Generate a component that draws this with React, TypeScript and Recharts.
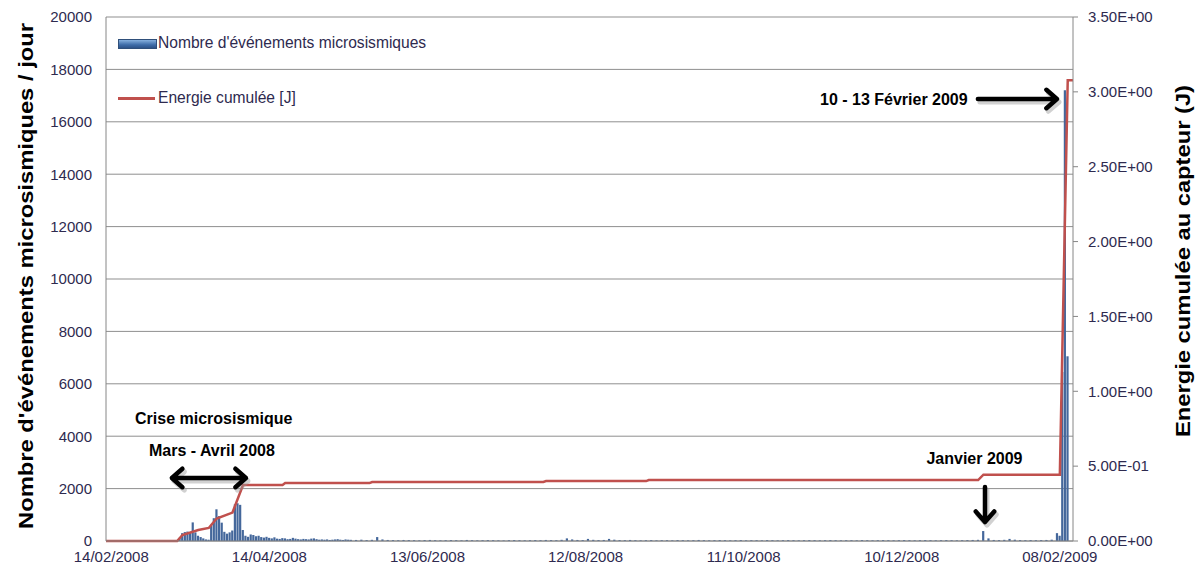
import {
  Bar,
  ComposedChart,
  CartesianGrid,
  Legend,
  Line,
  ReferenceDot,
  ReferenceLine,
  XAxis,
  YAxis,
} from "recharts";

// day index 0 = 14/02/2008
const X_TICKS = [0, 60, 120, 180, 240, 300, 360];
const X_TICK_LABELS = [
  "14/02/2008",
  "14/04/2008",
  "13/06/2008",
  "12/08/2008",
  "11/10/2008",
  "10/12/2008",
  "08/02/2009",
];
const LEFT_TICKS = [0, 2000, 4000, 6000, 8000, 10000, 12000, 14000, 16000, 18000, 20000];
const RIGHT_TICKS = [0, 0.5, 1, 1.5, 2, 2.5, 3, 3.5];

// daily counts, one per day from day 26 (crise mars - avril)
const CRISIS_START = 26;
const CRISIS_COUNTS = [
  120, 300, 340, 360, 340, 710, 330, 200, 150, 100,
  60, 50, 600, 870, 1210, 950, 700, 350, 280, 330,
  400, 1400, 1440, 1380, 420, 200, 160, 250, 230, 180,
  200, 150, 130, 160, 120, 100, 140, 90, 80, 110,
  100, 70, 80, 120, 90, 70, 60, 80, 70, 60,
  90, 100, 70, 50, 60, 50, 60, 40, 50, 60,
  70, 50, 40, 60, 50,
];

// quiet period, every other day from day 91
const QUIET_START = 91;
const QUIET_STEP = 2;
const QUIET_COUNTS = [
  45, 40, 50, 35, 45, 150, 60, 40, 35, 30,
  40, 35, 30, 25, 35, 40, 30, 25, 30, 35,
  30, 25, 40, 30, 25, 30, 35, 30, 25, 20,
  30, 35, 30, 25, 30, 35, 30, 40, 35, 30,
  45, 100, 60, 40, 35, 80, 45, 35, 40, 80,
  50, 35, 30, 40, 30, 25, 30, 35, 25, 30,
  30, 25, 35, 30, 25, 30, 40, 30, 25, 30,
  35, 30, 25, 30, 35, 25, 30, 30, 25, 35,
  30, 25, 30, 35, 30, 25, 30, 35, 30, 25,
  30, 35, 30, 25, 30, 30, 25, 35, 30, 25,
  30, 35, 30, 25, 30, 35, 30, 25, 30, 35,
  30, 25, 30, 35, 30, 25, 30, 35, 40, 45,
  380, 100, 40, 35, 45, 80, 50, 35, 30, 35,
  30, 35, 40, 50, 300,
];

// 10 - 13 février 2009
const PEAK_DAYS = [360, 361, 362, 363];
const PEAK_COUNTS = [200, 6450, 17200, 7050];

// cumulated energy [J], breakpoints
const ENERGY_DAYS = [-2, 25, 27, 33, 37, 40, 46, 50, 65, 66, 98, 99, 164, 165, 203, 204, 329, 331, 360, 363, 365];
const ENERGY_VALUES = [
  0, 0, 0.04, 0.073, 0.087, 0.15, 0.19, 0.374, 0.374, 0.387, 0.387,
  0.394, 0.394, 0.4, 0.4, 0.407, 0.407, 0.443, 0.443, 3.077, 3.077,
];

const BAR_NAME = "Nombre d'événements microsismiques";
const LINE_NAME = "Energie cumulée [J]";
const BAR_COLOR = "#44679b";
const LINE_COLOR = "#c0504d";
const TICK_COLOR = "#2e2a4f";
const GRID_COLOR = "#8f8f8f";

type Row = { day: number; count?: number; energy?: number };

function buildData(): Row[] {
  const rows = new Map<number, Row>();
  const get = (day: number) => {
    if (!rows.has(day)) rows.set(day, { day });
    return rows.get(day)!;
  };
  CRISIS_COUNTS.forEach((v, i) => (get(CRISIS_START + i).count = v));
  QUIET_COUNTS.forEach((v, i) => (get(QUIET_START + i * QUIET_STEP).count = v));
  PEAK_DAYS.forEach((d, i) => (get(d).count = PEAK_COUNTS[i]));
  ENERGY_DAYS.forEach((d, i) => (get(d).energy = ENERGY_VALUES[i]));
  return [...rows.values()].sort((a, b) => a.day - b.day);
}

const DATA = buildData();

function sci(v: number) {
  const [m, e] = v.toExponential(2).split("e");
  const sign = e[0] === "-" ? "-" : "+";
  return `${m}E${sign}${e.replace(/[+-]/, "").padStart(2, "0")}`;
}

function Arrow(props: any) {
  const x1 = Number(props.x1), y1 = Number(props.y1);
  const x2 = Number(props.x2), y2 = Number(props.y2);
  const head = (x: number, y: number, a: number) => {
    const l = 14, s = 0.72;
    return `M${x - l * Math.cos(a - s)},${y - l * Math.sin(a - s)} L${x},${y} L${x - l * Math.cos(a + s)},${y - l * Math.sin(a + s)}`;
  };
  const a = Math.atan2(y2 - y1, x2 - x1);
  let d = `M${x1},${y1} L${x2},${y2} ${head(x2, y2, a)}`;
  if (props.double) d += ` ${head(x1, y1, a + Math.PI)}`;
  return (
    <g>
      <path d={d} transform="translate(2,3)" stroke="#9a9a9a" strokeOpacity={0.45} strokeWidth={5} fill="none" strokeLinecap="round" strokeLinejoin="round" />
      <path d={d} stroke="#000" strokeWidth={4.5} fill="none" strokeLinecap="round" strokeLinejoin="round" />
    </g>
  );
}

const noteLabel = (value: string) => ({
  value,
  position: "center" as const,
  fill: "#000",
  fontSize: 16,
  fontWeight: 700,
});

function AxisTitle({ x, y, length, text }: { x: number; y: number; length: number; text: string }) {
  return (
    <text
      x={x}
      y={y}
      transform={`rotate(-90 ${x} ${y})`}
      textAnchor="middle"
      dominantBaseline="central"
      fontSize={21}
      fontWeight={700}
      fill="#000"
      textLength={length}
      lengthAdjust="spacingAndGlyphs"
    >
      {text}
    </text>
  );
}

function LegendContent() {
  const text = { position: "absolute" as const, left: 40, fontSize: 15.6, color: TICK_COLOR, whiteSpace: "nowrap" as const, lineHeight: "18px" };
  return (
    <div style={{ position: "relative", width: 330, height: 80 }}>
      <div
        style={{
          position: "absolute", left: 0, top: 5, width: 37, height: 8,
          background: "linear-gradient(#86b0de, #3e6ca8 60%, #2d5288)",
          border: "1px solid #2f4f7a",
        }}
      />
      <div style={{ ...text, top: 0 }}>{BAR_NAME}</div>
      <div style={{ position: "absolute", left: 0, top: 63, width: 37, height: 2.5, background: LINE_COLOR }} />
      <div style={{ ...text, top: 55 }}>{LINE_NAME}</div>
    </div>
  );
}

export default function App() {
  return (
    <div
      style={{
        position: "absolute", left: 0, top: 0, width: 1199, height: 567,
        background: "#fff", fontFamily: '"Liberation Sans", Arial, sans-serif',
      }}
    >
      <ComposedChart width={1199} height={567} data={DATA} margin={{ top: 17, right: 0, bottom: 0, left: 0 }}>
        <CartesianGrid yAxisId="left" vertical={false} stroke={GRID_COLOR} />
        <XAxis
          dataKey="day"
          type="number"
          domain={[-2, 365]}
          ticks={X_TICKS}
          interval={0}
          tickFormatter={(v) => X_TICK_LABELS[X_TICKS.indexOf(v)] ?? ""}
          height={26}
          tickLine={false}
          tickSize={4}
          tickMargin={6}
          stroke="#868686"
          tick={{ fill: TICK_COLOR, fontSize: 15 }}
        />
        <YAxis
          yAxisId="left"
          domain={[0, 20000]}
          ticks={LEFT_TICKS}
          interval={0}
          width={106}
          tickLine={false}
          tickSize={6}
          tickMargin={8}
          stroke="#868686"
          tick={{ fill: TICK_COLOR, fontSize: 15 }}
          label={() => <AxisTitle x={25} y={276} length={506} text="Nombre d'événements microsismiques / jour" />}
        />
        <YAxis
          yAxisId="right"
          orientation="right"
          domain={[0, 3.5]}
          ticks={RIGHT_TICKS}
          interval={0}
          width={126}
          tickSize={5}
          tickMargin={10}
          stroke="#868686"
          tickFormatter={sci}
          tick={{ fill: TICK_COLOR, fontSize: 15 }}
          label={() => <AxisTitle x={1182} y={261} length={352} text="Energie cumulée au capteur (J)" />}
        />
        <Legend
          layout="horizontal"
          verticalAlign="middle"
          align="center"
          wrapperStyle={{ left: 118, top: 34, width: "auto", height: "auto" }}
          content={() => <LegendContent />}
        />
        <Bar yAxisId="left" dataKey="count" name={BAR_NAME} fill={BAR_COLOR} barSize={2.2} isAnimationActive={false} />
        <Line
          yAxisId="right"
          dataKey="energy"
          name={LINE_NAME}
          type="linear"
          stroke={LINE_COLOR}
          strokeWidth={2.5}
          dot={false}
          activeDot={false}
          connectNulls
          isAnimationActive={false}
        />
        <ReferenceLine yAxisId="left" segment={[{ x: 23, y: 2405 }, { x: 51.1, y: 2405 }]} shape={(p: any) => <Arrow {...p} double />} />
        <ReferenceLine yAxisId="left" segment={[{ x: 331.6, y: 2061 }, { x: 331.6, y: 725 }]} shape={(p: any) => <Arrow {...p} />} />
        <ReferenceLine yAxisId="left" segment={[{ x: 328.9, y: 16870 }, { x: 358.9, y: 16870 }]} shape={(p: any) => <Arrow {...p} />} />
        <ReferenceDot yAxisId="left" x={38.9} y={4695} r={0} fill="none" stroke="none" label={noteLabel("Crise microsismique")} />
        <ReferenceDot yAxisId="left" x={38.2} y={3473} r={0} fill="none" stroke="none" label={noteLabel("Mars - Avril 2008")} />
        <ReferenceDot yAxisId="left" x={327.6} y={3168} r={0} fill="none" stroke="none" label={noteLabel("Janvier 2009")} />
        <ReferenceDot yAxisId="left" x={297} y={16870} r={0} fill="none" stroke="none" label={noteLabel("10 - 13 Février 2009")} />
      </ComposedChart>
    </div>
  );
}
